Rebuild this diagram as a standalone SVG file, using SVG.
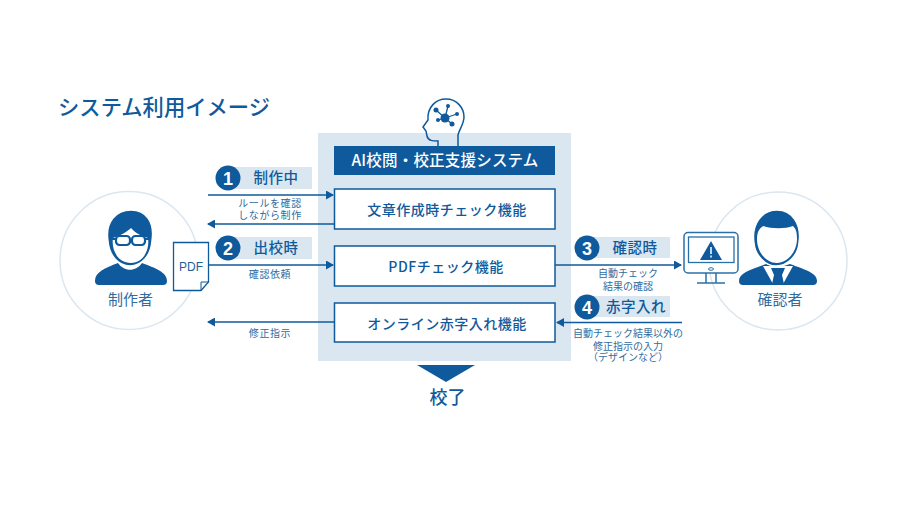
<svg xmlns="http://www.w3.org/2000/svg" width="900" height="505" viewBox="0 0 900 505">
<style>
text{font-family:"Noto Sans CJK JP","Noto Sans",sans-serif;fill:#0f5a9c;text-anchor:middle}
.h{font-weight:500;font-size:14.500px;letter-spacing:.5px}
.s{font-size:10px;fill:#2f6c9f}
.e{letter-spacing:.6px}
.l{font-weight:500;font-size:14px;letter-spacing:.5px}
.p{font-size:15px;fill:#2f6c9f}
.b{fill:#fff;stroke:#0f5a9c;stroke-width:1.5}
.t{fill:#dae6f0}
.c{fill:#fff;stroke:#dae6f0;stroke-width:1.5}
.w{fill:none;stroke:#0f5a9c;stroke-width:1.3;marker-end:url(#a)}
.n{fill:#0f5a9c}
.d{fill:#fff;font-family:"Liberation Sans",sans-serif;font-weight:700;font-size:18px}
</style>
<defs>
<marker id="a" markerUnits="userSpaceOnUse" markerWidth="8" markerHeight="9" refX="7" refY="4.5" orient="auto"><path d="M0 0L8 4.500L0 9Z" fill="#0f5a9c"/></marker>
</defs>
<rect width="900" height="505" fill="#fff"/>
<text x="164" y="115" style="font-size:21.300px;font-weight:500">システム利用イメージ</text>
<rect class="t" x="318" y="133" width="253" height="228"/>

<g id="brain">
<path d="M438 146V141C433 141 428 141 427 136L426 131L423 127L428 120C427 107 436 99 446 99C457 99 464 108 464 117C464 124 459 130 458 135V146" fill="none" stroke="#0f5a9c" stroke-width="1.5"/>
<path d="M445 118L436 110M445 118L448 106M445 118L457 114M445 118L452 124M445 118L438 120" stroke="#0f5a9c" stroke-width="1.300"/>
<g class="n"><circle cx="445" cy="118" r="4.500"/><circle cx="436" cy="110" r="2.500"/><circle cx="448" cy="106" r="2"/><circle cx="457" cy="114" r="2"/><circle cx="452" cy="124" r="2.500"/><circle cx="438" cy="120" r="2"/></g>
</g>
<g id="header"><rect class="n" x="334" y="146" width="221" height="29"/><text x="445" y="166" style="fill:#fff;font-weight:500;font-size:15.500px;letter-spacing:.2px">AI校閲・校正支援システム</text></g>

<g id="connectors">
<path class="w" d="M208 195H333"/>
<path class="w" d="M334 224H208"/>
<path class="w" d="M208 265H333"/>
<path class="w" d="M334 322H208"/>
<path class="w" d="M555 265H681"/>
<path class="w" d="M682 322.500H557"/>
</g>

<g id="f1"><rect class="b" x="334.500" y="189" width="220.500" height="40"/><text class="l" x="447" y="215">文章作成時チェック機能</text></g>
<g id="f2"><rect class="b" x="334.500" y="246" width="220.500" height="40"/><text class="l" x="446" y="272">PDFチェック機能</text></g>
<g id="f3"><rect class="b" x="334.500" y="303" width="220.500" height="39"/><text class="l" x="447" y="329">オンライン赤字入れ機能</text></g>

<g id="s1"><rect class="t" x="228" y="167" width="84" height="22"/><circle class="n" cx="228" cy="178" r="12.500"/><text class="d" x="228" y="184.500">1</text><text class="h" x="276" y="183">制作中</text></g>
<g id="s2"><rect class="t" x="228" y="237" width="84" height="22"/><circle class="n" cx="228" cy="248" r="12.500"/><text class="d" x="228" y="254.500">2</text><text class="h" x="276" y="253">出校時</text></g>
<g id="s3"><rect class="t" x="587" y="237" width="83" height="21"/><circle class="n" cx="587" cy="248" r="12.500"/><text class="d" x="587" y="254.500">3</text><text class="h" x="635" y="253">確認時</text></g>
<g id="s4"><rect class="t" x="587" y="296" width="83" height="21"/><circle class="n" cx="587" cy="307" r="12.500"/><text class="d" x="587" y="313.500">4</text><text class="h" x="636" y="312">赤字入れ</text></g>

<text class="s e" x="270" y="207">ルールを確認</text>
<text class="s e" x="270" y="219">しながら制作</text>
<text class="s e" x="270" y="278">確認依頼</text>
<text class="s e" x="270" y="337">修正指示</text>
<text class="s" x="628" y="277">自動チェック</text>
<text class="s" x="628" y="290">結果の確認</text>
<text class="s" x="628" y="337">自動チェック結果以外の</text>
<text class="s" x="628" y="349.500">修正指示の入力</text>
<text class="s" x="628" y="361">（デザインなど）</text>

<g id="author">
<circle class="c" cx="129" cy="260.500" r="69"/>
<path class="n" d="M95 281C95 272 105 268 118 263C124 272 136 272 142 263C155 268 167 272 167 281Q167 285 163 285H99Q95 285 95 281Z"/>
<path class="n" stroke="#fff" stroke-width="1.500" d="M108 241C105 222 116 210 131 210C146 210 155 222 152 241C151 255 142 266 130 266C118 266 109 255 108 241Z"/>
<path fill="#fff" d="M113 238C120 236 128 231 131 228C136 234 142 236 148 238C150 250 143 263 131 263C118 263 111 250 113 238Z"/>
<path d="M110 239H116M144 239H151" stroke="#0f5a9c" stroke-width="2"/>
<g fill="#fff" stroke="#0f5a9c" stroke-width="2.200"><rect x="116" y="236" width="14" height="9" rx="3.500"/><rect x="132" y="236" width="13" height="9" rx="3.500"/></g>
<text class="p" x="130.500" y="304.500">制作者</text>
</g>

<g id="pdf">
<path d="M173.500 242.500H208.500V282L201 290.500H173.500Z" fill="#fff" stroke="#0f5a9c" stroke-width="1.300"/>
<path d="M208.500 282H201V290.500" fill="none" stroke="#0f5a9c" stroke-width="1"/>
<text x="191" y="271" style="font-size:12px;font-family:'Liberation Sans',sans-serif;fill:#1f5f96">PDF</text>
</g>

<g id="reviewer">
<circle class="c" cx="778" cy="261" r="69"/>
<path class="n" d="M739 281C739 273 750 270 766 264L778 268L790 264C806 270 817 273 817 281Q817 285 813 285H743Q739 285 739 281Z"/>
<path d="M763 266L773 284H783L793 266Z" fill="#fff"/>
<path class="n" d="M771 268H785L782 275L784 284H772L774 275Z"/>
<path class="n" stroke="#fff" stroke-width="1.500" d="M754 243C751 224 762 210 777 210C792 210 802 224 799 243C798 255 788 266 776 266C765 266 755 255 754 243Z"/>
<path fill="#fff" d="M757 239C757 232 759 229 763 226C772 229 785 229 793 226C796 229 797 232 797 239C797 252 787 263 777 263C766 263 757 252 757 239Z"/>
<text class="p" x="780" y="304.500">確認者</text>
</g>

<g id="monitor">
<rect x="684" y="232.500" width="54" height="40.500" rx="4" fill="#fff" stroke="#2a70a8" stroke-width="1.500"/>
<rect x="688.500" y="237" width="45.500" height="25.500" fill="#fff" stroke="#2a70a8" stroke-width="1.300"/>
<path class="n" d="M711 241L722 260H700Z"/>
<path d="M711 247V254M711 255.500V257.500" stroke="#fff" stroke-width="1.500"/>
<ellipse cx="711" cy="269" rx="2.500" ry="1.300" fill="#fff" stroke="#2a70a8"/>
<path d="M706 273V283M716 273V283M697 283H725" fill="none" stroke="#2a70a8" stroke-width="1.500"/>
</g>

<g id="finish">
<path class="n" d="M417 365H475L446 382Z"/>
<text x="447.500" y="404" style="font-size:18px;font-weight:500">校了</text>
</g>
</svg>
